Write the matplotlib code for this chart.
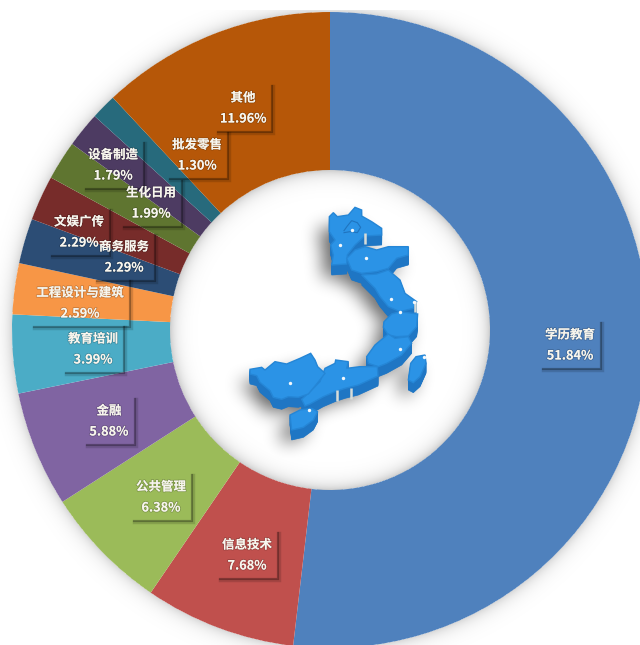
import matplotlib
matplotlib.use("Agg")
import matplotlib.pyplot as plt
import matplotlib.patheffects as pe
from matplotlib.patches import Polygon
from matplotlib.path import Path
import numpy as np

plt.rcParams['font.family'] = ['Noto Sans CJK SC', 'DejaVu Sans']

# slices, clockwise from the top
categories = ['学历教育', '信息技术', '公共管理', '金融', '教育培训', '工程设计与建筑',
              '商务服务', '文娱广传', '生化日用', '设备制造', '批发零售', '其他']
shares = [51.84, 7.68, 6.38, 5.88, 3.99, 2.59, 2.29, 2.29, 1.99, 1.79, 1.30, 11.96]
colors = ['#4f81bd', '#c0504d', '#9bbb59', '#8064a2', '#4bacc6', '#f79646',
          '#2c4d75', '#772c2a', '#5f7530', '#4d3b62', '#276a7c', '#b65708']

# label centres in picture pixels (they were placed by hand in the original)
label_x = [570, 247, 161, 109, 93, 80, 124, 79, 151, 113, 197, 243]
label_y = [335, 545, 487, 411, 339, 293, 247, 222, 193, 155, 145, 98]

# map outlines, traced at 3x from the picture with origin (240, 190)
map_regions = [
    [(268, 80), (280, 68), (292, 80), (325, 75), (345, 52), (365, 60), (365, 78), (395, 95), (425, 115),
     (425, 135), (375, 138), (345, 165), (322, 195), (320, 222), (275, 225), (280, 195), (272, 165),
     (285, 150), (268, 125), (268, 110)],
    [(320, 205), (345, 180), (375, 170), (410, 180), (445, 170), (505, 170), (505, 195), (470, 205),
     (445, 235), (410, 245), (365, 250), (335, 240)],
    [(365, 255), (410, 252), (445, 240), (480, 270), (495, 310), (530, 335), (520, 355), (480, 365),
     (445, 350), (420, 320), (405, 295)],
    [(432, 395), (455, 372), (480, 365), (533, 372), (530, 410), (505, 438), (470, 440), (445, 435), (430, 412)],
    [(380, 500), (405, 465), (445, 432), (465, 445), (505, 440), (515, 460), (485, 495), (440, 520),
     (415, 530), (385, 520)],
    [(185, 628), (210, 605), (240, 575), (255, 535), (285, 520), (287, 510), (325, 515), (320, 535), (360, 530),
     (412, 530), (414, 558), (355, 585), (315, 595), (285, 605), (250, 620), (210, 642), (195, 648)],
    [(30, 538), (65, 532), (75, 540), (105, 515), (140, 522), (180, 505), (212, 490), (225, 510), (233, 530),
     (255, 550), (230, 582), (205, 612), (175, 622), (145, 620), (125, 628), (100, 622), (90, 602), (60, 577),
     (50, 557), (30, 552)],
    [(150, 675), (180, 660), (215, 655), (233, 665), (220, 690), (190, 712), (155, 720)],
    [(512, 520), (528, 500), (555, 495), (558, 520), (540, 560), (520, 578), (505, 570)],
]
map_seam = [(312, 122), (322, 108), (335, 92), (352, 98), (362, 112), (352, 128), (330, 125), (312, 128)]
map_dots = [(336, 120), (299, 165), (377, 203), (453, 326), (480, 365), (480, 478), (310, 563),
            (149, 580), (207, 661), (552, 500), (522, 335)]
map_bars = [(375, 145), (525, 348), (292, 615), (333, 610)]

W, H = 640, 645
CX, CY = 330, 330
R_OUT, R_IN = 318, 160
TOP_MARGIN = 10
DROP = 30


def up(y):
    # picture rows run downwards, the axes run upwards
    return H - y


def map_xy(p, drop=0):
    return (240 + p[0] / 3, up(190 + (p[1] + drop) / 3))


def blur(a, size, times=3):
    kernel = np.ones(size) / size
    for i in range(times):
        a = np.apply_along_axis(lambda row: np.convolve(row, kernel, mode='same'), 1, a)
        a = np.apply_along_axis(lambda col: np.convolve(col, kernel, mode='same'), 0, a)
    return a


fig = plt.figure(figsize=(W / 100, H / 100), dpi=100)
ax = fig.add_axes([0, 0, 1, 1])

# grey glow round the ring and under the map, worked out in picture pixels
yy, xx = np.mgrid[0:H, 0:W]
rr = np.hypot(xx + 0.5 - CX, yy + 0.5 - CY)
glow = np.zeros((H, W))
glow[rr > R_OUT] = 0.16 * np.exp(-(rr[rr > R_OUT] - R_OUT) / 7)
glow[rr < R_IN] = 0.2 * np.exp(-(R_IN - rr[rr < R_IN]) / 7)
glow[:TOP_MARGIN, :] = 0

points = np.column_stack([xx.ravel() + 0.5, yy.ravel() + 0.5])
map_mask = np.zeros((H, W))
for region in map_regions:
    outline = [(240 + p[0] / 3 - 9, 190 + (p[1] + DROP) / 3 + 3) for p in region]
    map_mask[Path(outline).contains_points(points).reshape(H, W)] = 1
glow = np.maximum(glow, 0.62 * blur(map_mask, 17))

shade = np.zeros((H, W, 4))
shade[..., 3] = np.clip(glow, 0, 1)
ax.imshow(shade, extent=(0, W, 0, H), origin='upper', zorder=0, interpolation='bilinear')

ax.pie(shares, colors=colors, startangle=90, counterclock=False, center=(CX, up(CY)), radius=R_OUT,
       wedgeprops={'width': R_OUT - R_IN, 'linewidth': 0, 'zorder': 1}, frame=False)
ax.set_xlim(0, W)
ax.set_ylim(0, H)
ax.set_aspect('equal')
ax.axis('off')

# extruded sides, then the top faces
for region in map_regions:
    for drop in range(DROP, 0, -2):
        ax.add_patch(Polygon([map_xy(p, drop) for p in region], closed=True, fc='#1f76c4', ec='#1f76c4',
                             lw=0.5, zorder=4))
for region in map_regions:
    ax.add_patch(Polygon([map_xy(p) for p in region], closed=True, fc='#2b93e6', ec='#2586d6', lw=1.0, zorder=5))
ax.plot(*zip(*[map_xy(p) for p in map_seam]), color='#1f74bf', lw=0.8, zorder=6)

for p in map_bars:
    x, y = map_xy(p)
    ax.plot([x, x], [y + 5, y - 6], color='#d8dcd8', lw=1.8, solid_capstyle='butt', zorder=6)
ax.scatter([map_xy(p)[0] for p in map_dots], [map_xy(p)[1] for p in map_dots], s=6, color='#f4f8fb',
           linewidths=0, zorder=7)

# labels, each with the dark right and bottom edges of the original
fig.canvas.draw()
renderer = fig.canvas.get_renderer()
halo = [pe.withStroke(linewidth=1.2, foreground='#00000030')]
for name, share, x, y in zip(categories, shares, label_x, label_y):
    t1 = ax.text(x, up(y), name, color='#f8f6ee', fontsize=9, fontweight='bold', ha='center', va='center',
                 path_effects=halo, zorder=9)
    t2 = ax.text(x, up(y + 21), f'{share:.2f}%', color='#f8f6ee', fontsize=9.2, fontweight='bold',
                 ha='center', va='center', path_effects=halo, zorder=9)
    half = max(t1.get_window_extent(renderer).width, t2.get_window_extent(renderer).width) / 2
    right = x + half + 6
    left = x - half - 2
    bottom = up(y + 34)
    top = up(y - 12)
    ax.plot([right, right, left], [top, bottom, bottom], color='black', alpha=0.3, lw=1.6,
            solid_joinstyle='miter', zorder=8)
    ax.plot([right + 1, right + 1, left], [top, bottom - 1, bottom - 1], color='black', alpha=0.14, lw=2.5,
            solid_joinstyle='miter', zorder=8)

fig.savefig('out.png', dpi=100, facecolor='white')
